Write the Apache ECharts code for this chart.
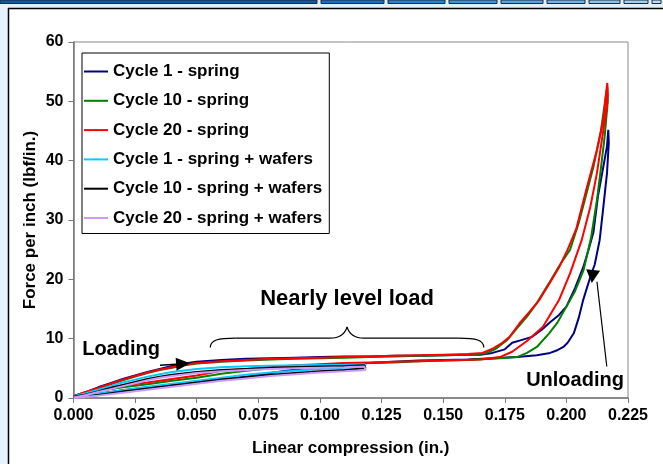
<!DOCTYPE html>
<html>
<head>
<meta charset="utf-8">
<script src="https://cdn.jsdelivr.net/npm/echarts@6/dist/echarts.min.js"></script>
<style>
html, body { margin: 0; padding: 0; background: #fff; }
#chart { width: 663px; height: 464px; }
</style>
</head>
<body>
<div id="chart"></div>
<script>
var seriesNames = ['Cycle 1 - spring', 'Cycle 10 - spring', 'Cycle 20 - spring',
  'Cycle 1 - spring + wafers', 'Cycle 10 - spring + wafers', 'Cycle 20 - spring + wafers'];
var seriesColors = ['#000080', '#008000', '#ff0000', '#00ccff', '#000000', '#cc99ff'];

// [compression (in.), force (lbf/in.)] - loading branch then unloading branch
var cycle1Spring = [
  [0, 0.3], [0.005, 1.0], [0.01, 1.8], [0.015, 2.5], [0.02, 3.2], [0.025, 3.8], [0.03, 4.4], [0.035, 4.9],
  [0.04, 5.4], [0.045, 5.8], [0.05, 6.1], [0.06, 6.4], [0.07, 6.6], [0.08, 6.7], [0.09, 6.8], [0.1, 6.9],
  [0.11, 7.0], [0.12, 7.0], [0.13, 7.1], [0.14, 7.1], [0.15, 7.2], [0.16, 7.3], [0.165, 7.3], [0.17, 7.6],
  [0.175, 8.2], [0.178, 9.3], [0.182, 9.8], [0.186, 10.3], [0.19, 11.5], [0.1935, 12.8], [0.197, 14],
  [0.2, 15.4], [0.2035, 18.5], [0.2068, 22], [0.209, 25], [0.211, 28], [0.2128, 34], [0.215, 39],
  [0.2165, 42.5], [0.217, 45.2],
  [0.2172, 43], [0.2165, 38], [0.215, 32.2], [0.2135, 26.6], [0.2115, 22.5], [0.2097, 20.4], [0.2068, 16.5],
  [0.205, 13.5], [0.203, 10.9], [0.2005, 9.3], [0.1988, 8.6], [0.196, 8.0], [0.1934, 7.6], [0.188, 7.2],
  [0.18, 6.9], [0.17, 6.7], [0.16, 6.5], [0.15, 6.4], [0.14, 6.3], [0.13, 6.1], [0.12, 5.9], [0.11, 5.6],
  [0.1, 5.3], [0.09, 4.8], [0.08, 4.2], [0.07, 3.6], [0.06, 3.1], [0.05, 2.6], [0.04, 2.2], [0.03, 1.8],
  [0.02, 1.3], [0.01, 0.7], [0.005, 0.4], [0, 0.2]
];
var cycle10Spring = [
  [0, 0.3], [0.005, 0.9], [0.01, 1.6], [0.015, 2.3], [0.02, 3.0], [0.025, 3.6], [0.03, 4.2], [0.035, 4.7],
  [0.04, 5.1], [0.045, 5.5], [0.05, 5.8], [0.06, 6.1], [0.07, 6.3], [0.08, 6.5], [0.09, 6.6], [0.1, 6.7],
  [0.11, 6.8], [0.12, 6.9], [0.13, 7.0], [0.14, 7.1], [0.15, 7.2], [0.16, 7.3], [0.167, 7.5], [0.171, 8.2],
  [0.176, 9.8], [0.18, 11.8], [0.184, 13.7], [0.188, 16], [0.193, 19.4], [0.197, 22.2], [0.2015, 25],
  [0.205, 29.5], [0.2075, 33.4], [0.211, 39], [0.214, 45], [0.2162, 51.5], [0.2166, 52.5],
  [0.2168, 50], [0.2155, 44], [0.2138, 38], [0.2124, 33.4], [0.21, 27], [0.207, 21.6], [0.2035, 18],
  [0.2, 15.4], [0.1965, 12.8], [0.193, 10.9], [0.188, 8.6], [0.184, 7.6], [0.18, 6.9], [0.17, 6.6],
  [0.16, 6.4], [0.15, 6.3], [0.14, 6.2], [0.13, 6.0], [0.12, 5.9], [0.11, 5.8], [0.1, 5.6], [0.09, 5.3],
  [0.08, 5.0], [0.07, 4.6], [0.06, 4.1], [0.05, 3.4], [0.04, 2.9], [0.03, 2.3], [0.02, 1.8], [0.012, 1.3],
  [0.006, 0.6], [0, 0.3]
];
var cycle20Spring = [
  [0, 0.3], [0.005, 1.0], [0.01, 1.7], [0.015, 2.4], [0.02, 3.1], [0.025, 3.7], [0.03, 4.3], [0.035, 4.8],
  [0.04, 5.2], [0.045, 5.6], [0.05, 5.9], [0.06, 6.2], [0.07, 6.4], [0.08, 6.6], [0.09, 6.7], [0.1, 6.8],
  [0.11, 6.9], [0.12, 7.0], [0.13, 7.1], [0.14, 7.2], [0.15, 7.3], [0.16, 7.4], [0.166, 7.6], [0.17, 8.3],
  [0.174, 9.3], [0.177, 10.3], [0.181, 12.6], [0.185, 14.5], [0.189, 16.5], [0.193, 19.2], [0.197, 22],
  [0.2005, 25], [0.204, 28.5], [0.208, 35], [0.2124, 41.8], [0.215, 46.9], [0.2166, 53.1],
  [0.2168, 51], [0.2164, 49], [0.2144, 43.5], [0.2124, 37.9], [0.2097, 32.2], [0.2062, 26.6], [0.2015, 21],
  [0.197, 16.5], [0.1905, 12], [0.184, 9.6], [0.178, 7.8], [0.173, 6.9], [0.165, 6.5], [0.15, 6.3],
  [0.14, 6.2], [0.13, 6.1], [0.12, 6.0], [0.11, 5.9], [0.1, 5.7], [0.09, 5.5], [0.08, 5.2], [0.07, 4.9],
  [0.06, 4.6], [0.05, 3.8], [0.04, 3.2], [0.03, 2.6], [0.02, 2.1], [0.012, 1.6], [0.006, 0.7], [0, 0.3]
];
var cycle1Wafers = [
  [0, 0.3], [0.005, 0.8], [0.01, 1.4], [0.015, 2.0], [0.02, 2.6], [0.025, 3.1], [0.03, 3.6], [0.035, 4.0],
  [0.04, 4.4], [0.05, 4.9], [0.06, 5.2], [0.07, 5.35], [0.08, 5.45], [0.09, 5.5], [0.1, 5.55], [0.11, 5.6],
  [0.118, 5.7],
  [0.1185, 5.3], [0.11, 5.1], [0.1, 4.9], [0.09, 4.6], [0.08, 4.3], [0.07, 3.9], [0.06, 3.4], [0.05, 2.9],
  [0.04, 2.4], [0.03, 1.9], [0.02, 1.3], [0.01, 0.7], [0.005, 0.4], [0, 0.2]
];
var cycle10Wafers = [
  [0, 0.2], [0.005, 0.6], [0.01, 1.1], [0.015, 1.7], [0.02, 2.2], [0.025, 2.7], [0.03, 3.2], [0.035, 3.6],
  [0.04, 3.9], [0.05, 4.4], [0.06, 4.7], [0.07, 4.9], [0.08, 5.1], [0.09, 5.2], [0.1, 5.3], [0.11, 5.4],
  [0.118, 5.5],
  [0.1185, 5.0], [0.11, 4.7], [0.1, 4.5], [0.09, 4.2], [0.08, 3.9], [0.07, 3.5], [0.06, 3.1], [0.05, 2.6],
  [0.04, 2.1], [0.03, 1.6], [0.02, 1.1], [0.01, 0.5], [0.005, 0.3], [0, 0.1]
];
var cycle20Wafers = [
  [0, 0.1], [0.005, 0.5], [0.01, 1.0], [0.015, 1.5], [0.02, 2.0], [0.025, 2.5], [0.03, 3.0], [0.035, 3.4],
  [0.04, 3.7], [0.05, 4.2], [0.06, 4.5], [0.07, 4.7], [0.08, 4.9], [0.09, 5.0], [0.1, 5.1], [0.11, 5.2],
  [0.118, 5.3],
  [0.1185, 4.7], [0.11, 4.5], [0.1, 4.3], [0.09, 4.0], [0.08, 3.7], [0.07, 3.3], [0.06, 2.9], [0.05, 2.4],
  [0.04, 1.9], [0.03, 1.4], [0.02, 0.9], [0.01, 0.4], [0.005, 0.2], [0, 0]
];
var allData = [cycle1Spring, cycle10Spring, cycle20Spring, cycle1Wafers, cycle10Wafers, cycle20Wafers];

var font = 'Arial, "Liberation Sans", Helvetica, sans-serif';
var chart = echarts.init(document.getElementById('chart'));

chart.setOption({
  animation: false,
  backgroundColor: '#fff',
  grid: {
    left: 73.5, right: 35, top: 42, bottom: 66,
    show: true, borderColor: '#888', borderWidth: 1
  },
  legend: {
    orient: 'vertical',
    left: 82, top: 53,
    padding: [10, 7, 7, 2],
    itemGap: 12.3,
    itemWidth: 24,
    itemHeight: 2,
    icon: 'rect',
    borderColor: '#000',
    borderWidth: 1,
    backgroundColor: '#fff',
    textStyle: { fontFamily: font, fontWeight: 'bold', fontSize: 17, color: '#000', lineHeight: 17 },
    data: seriesNames
  },
  xAxis: {
    type: 'value', min: 0, max: 0.225, interval: 0.025,
    name: 'Linear compression (in.)', nameLocation: 'middle', nameGap: 42,
    nameTextStyle: { fontFamily: font, fontWeight: 'bold', fontSize: 17, color: '#000' },
    axisLine: { show: true, lineStyle: { color: '#777', width: 1.5 } },
    axisTick: { show: true, inside: false, length: 5, lineStyle: { color: '#777' } },
    axisLabel: {
      fontFamily: font, fontWeight: 'bold', fontSize: 16, color: '#000', margin: 10,
      formatter: function (v) { return v.toFixed(3); }
    },
    splitLine: { show: false }
  },
  yAxis: {
    type: 'value', min: 0, max: 60, interval: 10,
    name: 'Force per inch (lbf/in.)', nameLocation: 'middle', nameGap: 35, nameRotate: 90,
    nameMoveOverlap: false,
    nameTextStyle: { fontFamily: font, fontWeight: 'bold', fontSize: 17, color: '#000' },
    axisLine: { show: true, lineStyle: { color: '#777', width: 1.5 } },
    axisTick: { show: true, inside: false, length: 5, lineStyle: { color: '#777' } },
    axisLabel: { fontFamily: font, fontWeight: 'bold', fontSize: 16, color: '#000', margin: 10 },
    splitLine: { show: false }
  },
  series: seriesNames.map(function (name, i) {
    return {
      name: name,
      type: 'line',
      data: allData[i],
      symbol: 'none',
      color: seriesColors[i],
      lineStyle: { color: seriesColors[i], width: 2 }
    };
  })
});

// annotations, anchored in data space
function px(p) { return chart.convertToPixel({ gridIndex: 0 }, p); }

function arrowHead(tail, tip, len, half) {
  var a = px(tail), b = px(tip);
  var dx = b[0] - a[0], dy = b[1] - a[1];
  var d = Math.sqrt(dx * dx + dy * dy);
  dx /= d; dy /= d;
  var bx = b[0] - dx * len, by = b[1] - dy * len;
  return [[b[0], b[1]], [bx - dy * half, by + dx * half], [bx + dy * half, by - dx * half]];
}

var loadTail = [0.0351, 5.5], loadTip = [0.0473, 5.85];
var unloadTail = [0.2112, 23], unloadTip = [0.2103, 19.4];
var leaderTop = [0.2124, 19.6], leaderBottom = [0.2164, 5.3];
var braceLeft = [0.0555, 8.5], braceRight = [0.1665, 8.5], braceMid = [0.111, 12.0], braceLine = 10.1;

var bl = px(braceLeft), br = px(braceRight), bm = px(braceMid), bY = px([0, braceLine])[1];
var braceStyle = { stroke: '#000', lineWidth: 1.2, fill: null };
var brace = [
  { type: 'bezierCurve', shape: { x1: bl[0], y1: bl[1], cpx1: bl[0], cpy1: bY + 2, cpx2: bl[0] + 8, cpy2: bY, x2: bl[0] + 25, y2: bY }, style: braceStyle, z: 100 },
  { type: 'line', shape: { x1: bl[0] + 25, y1: bY, x2: bm[0] - 17, y2: bY }, style: braceStyle, z: 100 },
  { type: 'bezierCurve', shape: { x1: bm[0] - 17, y1: bY, cpx1: bm[0] - 7, cpy1: bY, cpx2: bm[0] - 2, cpy2: bY - 4, x2: bm[0], y2: bm[1] }, style: braceStyle, z: 100 },
  { type: 'bezierCurve', shape: { x1: bm[0], y1: bm[1], cpx1: bm[0] + 2, cpy1: bY - 4, cpx2: bm[0] + 7, cpy2: bY, x2: bm[0] + 17, y2: bY }, style: braceStyle, z: 100 },
  { type: 'line', shape: { x1: bm[0] + 17, y1: bY, x2: br[0] - 25, y2: bY }, style: braceStyle, z: 100 },
  { type: 'bezierCurve', shape: { x1: br[0] - 25, y1: bY, cpx1: br[0] - 8, cpy1: bY, cpx2: br[0], cpy2: bY + 2, x2: br[0], y2: br[1] }, style: braceStyle, z: 100 }
];

var lh = arrowHead(loadTail, loadTip, 14, 6.5);
var uh = arrowHead(unloadTail, unloadTip, 13, 7);
var lt = px(loadTail), lbase = [(lh[1][0] + lh[2][0]) / 2, (lh[1][1] + lh[2][1]) / 2];
var ldTop = px(leaderTop), ldBot = px(leaderBottom);

function label(text, at, size) {
  var p = px(at);
  return {
    type: 'text', x: p[0], y: p[1], z: 100,
    style: { text: text, fill: '#000', font: 'bold ' + size + 'px ' + font, align: 'center', verticalAlign: 'middle' }
  };
}

// window chrome around the chart picture
var barEdges = [0, 319, 386, 447, 499, 545, 587, 622, 650, 663];
var barColors = ['#0a5aa6', '#1570c4', '#2282d4', '#3a93dc', '#55a3e2', '#70b3e8', '#8ac2ec', '#a3cff0', '#bcdcf4'];
var chrome = [
  { type: 'rect', shape: { x: 0, y: 0, width: 663, height: 8 }, style: { fill: '#dff0fb' }, z: 90 },
  { type: 'rect', shape: { x: 0, y: 0, width: 8, height: 464 }, style: { fill: '#e6f3fc' }, z: 90 },
  { type: 'line', shape: { x1: 8, y1: 8.5, x2: 663, y2: 8.5 }, style: { stroke: '#000', lineWidth: 1.5 }, z: 91 },
  { type: 'line', shape: { x1: 8.5, y1: 8, x2: 8.5, y2: 464 }, style: { stroke: '#000', lineWidth: 1.5 }, z: 91 }
];
for (var i = 0; i < barColors.length; i++) {
  chrome.push({
    type: 'rect',
    shape: { x: barEdges[i] + (i ? 2 : 0), y: 0, width: barEdges[i + 1] - barEdges[i] - (i ? 2 : 0) - 2, height: 3.5 },
    style: { fill: barColors[i], stroke: '#1c2a3a', lineWidth: 1 }, z: 92
  });
}

chart.setOption({
  graphic: chrome.concat(brace, [
    { type: 'line', shape: { x1: lt[0], y1: lt[1], x2: lbase[0], y2: lbase[1] }, style: { stroke: '#000', lineWidth: 1.5 }, z: 100 },
    { type: 'polygon', shape: { points: lh }, style: { fill: '#000' }, z: 100 },
    { type: 'polygon', shape: { points: uh }, style: { fill: '#000' }, z: 100 },
    { type: 'line', shape: { x1: ldTop[0], y1: ldTop[1], x2: ldBot[0], y2: ldBot[1] }, style: { stroke: '#000', lineWidth: 1.2 }, z: 100 },
    label('Loading', [0.0193, 8.1], 20),
    label('Nearly level load', [0.111, 16.7], 22),
    label('Unloading', [0.2035, 2.9], 20)
  ])
});
</script>
</body>
</html>
